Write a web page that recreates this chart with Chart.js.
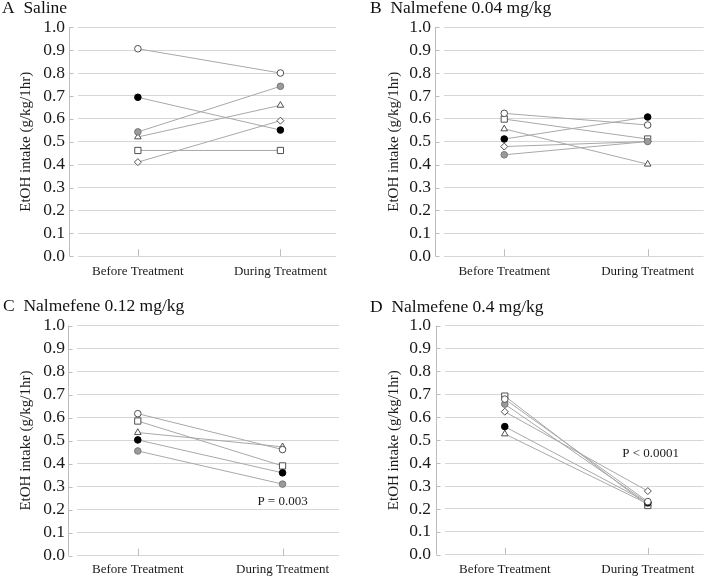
<!DOCTYPE html>
<html><head><meta charset="utf-8">
<script src="https://cdn.jsdelivr.net/npm/chart.js@4.4.0/dist/chart.umd.min.js"></script>
<style>
html,body{margin:0;padding:0;background:#fff;}
#wrap{position:relative;width:709px;height:579px;overflow:hidden;background:#fff;}
.p{position:absolute;}
</style></head><body>
<div id="wrap">
<div class="p" style="left:0;top:0;width:354px;height:290px"><canvas id="cA"></canvas></div>
<div class="p" style="left:354px;top:0;width:355px;height:290px"><canvas id="cB"></canvas></div>
<div class="p" style="left:0;top:290px;width:354px;height:289px"><canvas id="cC"></canvas></div>
<div class="p" style="left:354px;top:290px;width:355px;height:289px"><canvas id="cD"></canvas></div>
</div>
<script>
// ---------------- data ----------------
const categories = ['Before Treatment', 'During Treatment'];
const yTickLabels = ['0.0','0.1','0.2','0.3','0.4','0.5','0.6','0.7','0.8','0.9','1.0'];
const yAxisTitle = 'EtOH intake (g/kg/1hr)';
const subjects = ['open circle','black circle','grey circle','triangle','square','diamond'];

const salineBefore = [0.906, 0.694, 0.543, 0.521, 0.462, 0.411];
const salineDuring = [0.800, 0.551, 0.742, 0.659, 0.462, 0.592];

const nal004Before = [0.624, 0.512, 0.443, 0.556, 0.599, 0.479];
const nal004During = [0.573, 0.608, 0.501, 0.402, 0.512, 0.501];

const nal012Before = [0.617, 0.503, 0.455, 0.535, 0.585, null];
const nal012During = [0.461, 0.360, 0.311, 0.473, 0.390, null];

const nal04Before = [0.679, 0.559, 0.657, 0.527, 0.692, 0.624];
const nal04During = [0.232, 0.228, 0.226, 0.222, 0.215, 0.278];

const panelTitles = ['A  Saline', 'B  Nalmefene 0.04 mg/kg', 'C  Nalmefene 0.12 mg/kg', 'D  Nalmefene 0.4 mg/kg'];
const pTexts = [null, null, 'P = 0.003', 'P < 0.0001'];

// ---------------- styles ----------------
const FONT = '"Liberation Serif", "Times New Roman", serif';
const markerStyles = [
  {pointStyle:'circle',  radius:3.3, bg:'#ffffff', border:'#505050'},
  {pointStyle:'circle',  radius:3.3, bg:'#000000', border:'#000000'},
  {pointStyle:'circle',  radius:3.3, bg:'#9a9a9a', border:'#7a7a7a'},
  {pointStyle:'triangle',radius:3.8, bg:'#ffffff', border:'#505050'},
  {pointStyle:'rect',    radius:4.4, bg:'#ffffff', border:'#505050'},
  {pointStyle:'rectRot', radius:3.5, bg:'#ffffff', border:'#505050'}
];

const panels = [
  {id:'cA', title:panelTitles[0], before:salineBefore, during:salineDuring, p:pTexts[0], pPos:null,
   H:290, padL:2, padR:18, axisW:76, tickPad:13, yTitlePad:15.1, tTop:0, tBot:9.7, bottomY:256.3, xPad:7.6},
  {id:'cB', title:panelTitles[1], before:nal004Before, during:nal004During, p:pTexts[1], pPos:null,
   H:290, padL:16, padR:3, axisW:74, tickPad:13, yTitlePad:15.1, tTop:0, tBot:9.7, bottomY:256.3, xPad:7.6},
  {id:'cC', title:panelTitles[2], before:nal012Before, during:nal012During, p:pTexts[2], pPos:[1.0, 0.237],
   H:289, padL:3, padR:15, axisW:74, tickPad:12, yTitlePad:14.1, tTop:7.8, tBot:10.2, bottomY:265.7, xPad:6.0},
  {id:'cD', title:panelTitles[3], before:nal04Before, during:nal04During, p:pTexts[3], pPos:[1.02, 0.44],
   H:289, padL:16, padR:3, axisW:74.7, tickPad:13.7, yTitlePad:15.1, tTop:8.5, tBot:9.5, bottomY:265.7, xPad:6.5}
];

const decoPlugin = {
  id: 'deco',
  beforeDatasetsDraw(chart) {
    const {ctx, chartArea, scales:{x, y}} = chart;
    const ax = Math.round(chartArea.left - 9) + 0.5;
    ctx.save();
    ctx.strokeStyle = '#bdbdbd';
    ctx.lineWidth = 1;
    ctx.beginPath();
    ctx.moveTo(ax, y.getPixelForValue(1));
    ctx.lineTo(ax, y.getPixelForValue(0));
    y.ticks.forEach(t => {
      const py = Math.round(y.getPixelForValue(t.value)) + 0.5;
      ctx.moveTo(ax, py); ctx.lineTo(ax + 4, py);
    });
    categories.forEach((c, i) => {
      const px = Math.round(x.getPixelForValue(i)) + 0.5;
      const py = y.getPixelForValue(0);
      ctx.moveTo(px, py); ctx.lineTo(px, py - 7);
    });
    ctx.stroke();
    ctx.restore();
  },
  afterDraw(chart) {
    const cfg = chart.options.plugins.deco;
    if (!cfg || !cfg.text) return;
    const {ctx, scales:{x, y}} = chart;
    ctx.save();
    ctx.font = '13px ' + FONT;
    ctx.fillStyle = '#1a1a1a';
    ctx.textAlign = 'center';
    ctx.textBaseline = 'middle';
    ctx.fillText(cfg.text, x.getPixelForValue(cfg.pos[0]), y.getPixelForValue(cfg.pos[1]));
    ctx.restore();
  }
};

panels.forEach(pn => {
  const lineSets = [], markerSets = [];
  subjects.forEach((s, i) => {
    if (pn.before[i] == null) return;
    const pts = [{x:0, y:pn.before[i]}, {x:1, y:pn.during[i]}];
    lineSets.push({label: s + ' line', data: pts, showLine: true, borderColor:'#a8a8a8', borderWidth:1,
      pointRadius:0, fill:false, order:1});
    const m = markerStyles[i];
    markerSets.push({label: s, data: pts, showLine:false, pointStyle:m.pointStyle, pointRadius:m.radius,
      pointBackgroundColor:m.bg, pointBorderColor:m.border, pointBorderWidth:1, order:0});
  });
  new Chart(document.getElementById(pn.id), {
    type: 'scatter',
    data: {datasets: lineSets.concat(markerSets)},
    plugins: [decoPlugin],
    options: {
      responsive: true, maintainAspectRatio: false, animation: false,
      layout: {padding: {left: pn.padL, right: pn.padR, top: 0, bottom: 0}},
      plugins: {
        legend: {display:false}, tooltip: {enabled:false},
        title: {display:true, text: pn.title, align:'start', color:'#111',
          font:{family:FONT, size:17.5, weight:'normal', lineHeight:1},
          padding:{top: pn.tTop, bottom: pn.tBot}},
        deco: {text: pn.p, pos: pn.pPos}
      },
      scales: {
        x: {
          type:'linear', min:-0.42, max:1.39,
          afterBuildTicks: sc => { sc.ticks = categories.map((c, i) => ({value:i})); },
          ticks: {callback: v => categories[v], autoSkip:false, maxRotation:0, padding: pn.xPad,
            color:'#1a1a1a', font:{family:FONT, size:13}},
          grid: {display:false, drawTicks:false}, border: {display:false},
          afterFit: sc => { sc.height = pn.H - pn.bottomY; }
        },
        y: {
          min:0, max:1,
          afterBuildTicks: sc => { sc.ticks = yTickLabels.map(l => ({value: parseFloat(l)})); },
          ticks: {callback: (v, i) => yTickLabels[i], autoSkip:false, padding: pn.tickPad, color:'#1a1a1a',
            font:{family:FONT, size:17.5}},
          grid: {color:'#d6d6d6', lineWidth:1, drawTicks:false},
          border: {display:false},
          title: {display:true, text:yAxisTitle, color:'#1a1a1a', font:{family:FONT, size:15},
            padding:{top: pn.yTitlePad, bottom:0}},
          afterFit: sc => { sc.width = pn.axisW; }
        }
      }
    }
  });
});
</script>
</body></html>
